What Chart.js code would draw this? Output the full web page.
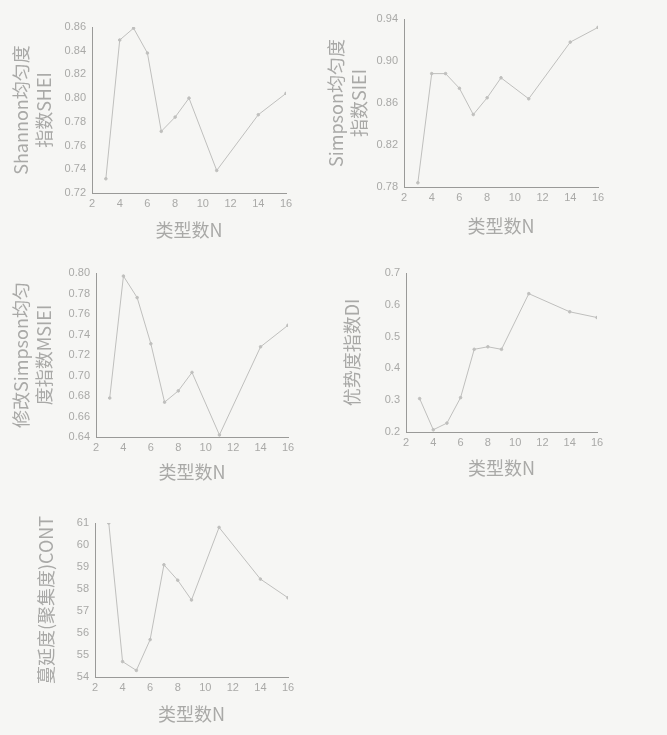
<!DOCTYPE html>
<html>
<head>
<meta charset="utf-8">
<script src="https://cdn.jsdelivr.net/npm/chart.js@4"></script>
<style>
  html, body { margin: 0; padding: 0; background: #f6f6f4; }
  #wrap { position: relative; width: 667px; height: 735px; overflow: hidden; }
  #wrap canvas { position: absolute; }
</style>
</head>
<body>
<div id="wrap">
  <canvas id="c-shei" width="310" height="245" style="left:0;top:0"></canvas>
  <canvas id="c-siei" width="300" height="245" style="left:320px;top:0"></canvas>
  <canvas id="c-msiei" width="310" height="245" style="left:0;top:240px"></canvas>
  <canvas id="c-di" width="300" height="245" style="left:320px;top:240px"></canvas>
  <canvas id="c-cont" width="310" height="255" style="left:0;top:480px"></canvas>
</div>
<script>
/* landscape indices vs. number of types N */

/* ── Data ─────────────────────────────────────────────────────── */
var typeN = [3, 4, 5, 6, 7, 8, 9, 11, 14, 16];
var shei  = [0.732, 0.849, 0.859, 0.838, 0.772, 0.784, 0.800, 0.739, 0.786, 0.804];
var siei  = [0.784, 0.888, 0.888, 0.874, 0.849, 0.865, 0.884, 0.864, 0.918, 0.932];
var msiei = [0.678, 0.797, 0.776, 0.731, 0.674, 0.685, 0.703, 0.642, 0.728, 0.749];
var di    = [0.305, 0.207, 0.228, 0.308, 0.460, 0.468, 0.460, 0.635, 0.578, 0.560];
var cont  = [61.0, 54.7, 54.3, 55.7, 59.1, 58.4, 57.5, 60.8, 58.45, 57.6];

var xTitle = '类型数N';

/* ── Styles ───────────────────────────────────────────────────── */
var TEXT = '#a9a9a7';
var AXIS = '#9a9a98';
var LINE = '#bfbfbd';
var TICK_FONT = { family: "'Liberation Sans', sans-serif", size: 11 };
var TITLE_FONT = { family: "'Noto Sans CJK SC', sans-serif", size: 18, lineHeight: 1.3 };

function makePanel(id, values, opt) {
  var pts = typeN.map(function(n, i) { return { x: n, y: values[i] }; });
  return new Chart(document.getElementById(id), {
    type: 'line',
    data: {
      datasets: [{
        data: pts,
        borderColor: LINE,
        borderWidth: 1,
        pointRadius: 1.3,
        pointBackgroundColor: LINE,
        pointBorderColor: LINE,
        tension: 0,
        fill: false,
      }]
    },
    options: {
      responsive: false,
      animation: false,
      devicePixelRatio: 1,
      layout: { padding: { top: opt.padTop, right: opt.padRight, left: 0, bottom: 0 } },
      plugins: { legend: { display: false }, tooltip: { enabled: false } },
      scales: {
        x: {
          type: 'linear',
          min: 2, max: 16,
          ticks: { stepSize: 2, color: TEXT, font: TICK_FONT, padding: 4 },
          grid: { display: false, drawTicks: false },
          border: { display: true, color: AXIS, width: 1 },
          title: { display: true, text: xTitle, color: TEXT,
                   font: { family: "'Noto Sans CJK SC', sans-serif", size: 18 },
                   padding: { top: 0, bottom: opt.xTitlePad } },
          afterFit: function(s) { s.height = opt.xHeight; },
        },
        y: {
          min: opt.min, max: opt.max,
          ticks: {
            stepSize: opt.step, color: TEXT, font: TICK_FONT, padding: 6,
            callback: function(v) { return v.toFixed(opt.dec); },
          },
          grid: { display: false, drawTicks: false },
          border: { display: true, color: AXIS, width: 1 },
          title: { display: true, text: opt.yTitle, color: TEXT, font: TITLE_FONT,
                   padding: { top: opt.yTitlePad, bottom: 0 } },
          afterFit: function(s) { s.width = opt.yWidth; },
        },
      },
    }
  });
}

makePanel('c-shei', shei, {
  min: 0.72, max: 0.86, step: 0.02, dec: 2,
  yTitle: ['Shannon均匀度', '指数SHEI'], yTitlePad: 9,
  yWidth: 92, xHeight: 52, padTop: 27, padRight: 24, xTitlePad: 4,
});
makePanel('c-siei', siei, {
  min: 0.78, max: 0.94, step: 0.04, dec: 2,
  yTitle: ['Simpson均匀度', '指数SIEI'], yTitlePad: 4,
  yWidth: 84, xHeight: 58, padTop: 19, padRight: 22, xTitlePad: 8,
});
makePanel('c-msiei', msiei, {
  min: 0.64, max: 0.80, step: 0.02, dec: 2,
  yTitle: ['修改Simpson均匀', '度指数MSIEI'], yTitlePad: 9,
  yWidth: 96, xHeight: 48, padTop: 33, padRight: 22, xTitlePad: 2,
});
makePanel('c-di', di, {
  min: 0.2, max: 0.7, step: 0.1, dec: 1,
  yTitle: '优势度指数DI', yTitlePad: 20,
  yWidth: 86, xHeight: 53, padTop: 33, padRight: 23, xTitlePad: 6,
});
makePanel('c-cont', cont, {
  min: 54, max: 61, step: 1, dec: 0,
  yTitle: '蔓延度(聚集度)CONT', yTitlePad: 34,
  yWidth: 95, xHeight: 58, padTop: 43, padRight: 22, xTitlePad: 10,
});
</script>
</body>
</html>
